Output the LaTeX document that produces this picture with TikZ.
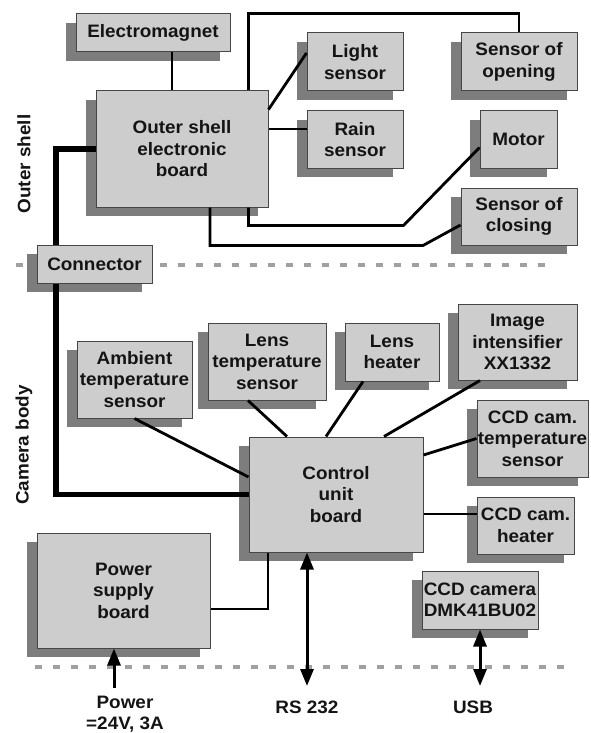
\documentclass[tikz,border=0pt]{standalone}
\usepackage{fontspec}
\setmainfont{Liberation Sans}[FakeStretch=1.05]
\usetikzlibrary{shadows,arrows.meta,calc}
\definecolor{boxfill}{RGB}{205,205,205}
\definecolor{shadowc}{RGB}{125,125,125}
\definecolor{edgec}{RGB}{70,70,70}
\definecolor{dashc}{RGB}{160,160,160}
\definecolor{textc}{RGB}{20,20,20}
\begin{document}
\begin{tikzpicture}[x=1pt,y=-1pt,
  every node/.style={font=\fontsize{18}{21.5}\selectfont\bfseries, text=textc},
  box/.style={draw=edgec, line width=1pt, fill=boxfill, inner sep=0pt, align=center,
     general shadow={fill=shadowc, shadow xshift=-10pt, shadow yshift=-9pt}},
  wire/.style={line width=2.8pt, black},
  thickwire/.style={line width=5.5pt, black},
  sepline/.style={dashc, line width=3.5pt, dash pattern=on 7pt off 11pt},
  bus/.style={line width=3pt, {Triangle[length=17pt,width=13pt]}-{Triangle[length=17pt,width=13pt]}},
  feed/.style={line width=3pt, -{Triangle[length=17pt,width=13pt]}}
]
\useasboundingbox (0,0) rectangle (591,733);

% separators
\coordinate (s1a) at (16,265);
\coordinate (s1b) at (552,265);
\coordinate (s2a) at (35,667);
\coordinate (s2b) at (572,667);
\draw[sepline] (s1a) -- (s1b);
\draw[sepline] (s2a) -- (s2b);

% boxes
\node[box, minimum width=154pt, minimum height=38pt] (elec) at (153,33) {Electromagnet};
\node[box, minimum width=172pt, minimum height=116pt] (outer) at (182,149) {Outer shell\\electronic\\board};
\node[box, minimum width=96pt, minimum height=58pt] (light) at (355,62) {Light\\sensor};
\node[box, minimum width=96pt, minimum height=57pt] (rain) at (355,139.5) {Rain\\sensor};
\node[box, minimum width=116pt, minimum height=58pt] (opening) at (519,62) {Sensor of\\opening};
\node[box, minimum width=77pt, minimum height=57pt] (motor) at (518.5,139.5) {Motor};
\node[box, minimum width=116pt, minimum height=57pt] (closing) at (519,216.5) {Sensor of\\closing};
\node[box, minimum width=115pt, minimum height=38pt] (conn) at (94.5,264) {Connector};
\node[box, minimum width=115pt, minimum height=77pt] (ambient) at (134.5,379.5) {Ambient\\temperature\\sensor};
\node[box, minimum width=118pt, minimum height=77pt] (lenstemp) at (267,361.5) {Lens\\temperature\\sensor};
\node[box, minimum width=94pt, minimum height=58pt] (lensheat) at (392,352) {Lens\\heater};
\node[box, minimum width=119pt, minimum height=76pt] (image) at (517.5,342) {Image\\intensifier\\XX1332};
\node[box, minimum width=111pt, minimum height=77pt] (ccdtemp) at (532.5,438.5) {CCD cam.\\temperature\\sensor};
\node[box, minimum width=174pt, minimum height=115pt] (control) at (336,494.5) {Control\\unit\\board};
\node[box, minimum width=97pt, minimum height=57pt] (ccdheat) at (525.5,525.5) {CCD cam.\\heater};
\node[box, minimum width=173pt, minimum height=115pt] (power) at (123.5,590.5) {Power\\supply\\board};
\node[box, minimum width=116pt, minimum height=58pt] (ccdcam) at (480,600) {CCD camera\\DMK41BU02};

% side labels
\node[rotate=90] (outerlab) at (24,164) {Outer shell};
\node[rotate=90] (bodylab) at (24,445) {Camera body};

% outer shell wiring
\draw[wire] ([xshift=19pt]elec.south) coordinate (e1) -- (e1 |- outer.north);
\draw[wire] ([xshift=-20pt]outer.north east) -- ++(0,-77) -| (opening.north);
\draw[wire] ([yshift=-19pt]outer.north east) -- ([yshift=9pt]light.west);
\draw[wire] ([yshift=10.5pt]rain.west) -- ([yshift=10.5pt]rain.west -| outer.east);
\draw[wire] ([xshift=-20pt]outer.south east) -- ++(0,18) -- ++(155,0) -- ([yshift=-8pt]motor.west);
\draw[wire] ([xshift=28pt]outer.south) -- ++(0,38) -- ++(213,0) -- ([yshift=-8.5pt]closing.west);
\draw[thickwire] (outer.west) -| ([xshift=-38.5pt]conn.north);
\draw[thickwire] ([xshift=-38.5pt]conn.south) |- (control.west);

% camera body wiring
\draw[wire] (ambient.south) -- ([yshift=17.5pt]control.west);
\draw[wire] ([xshift=-19pt]lenstemp.south) -- ([xshift=-49pt]control.north);
\draw[wire] ([xshift=-29pt]lensheat.south) -- ([xshift=-10pt]control.north);
\draw[wire] ([xshift=-37.5pt]image.south) -- ([xshift=48pt]control.north);
\draw[wire] ([yshift=39.5pt]control.east) -- (ccdtemp.west);
\draw[wire] ([yshift=11.5pt]ccdheat.west) -- ([yshift=11.5pt]ccdheat.west -| control.east);
\draw[wire] ([yshift=-18.5pt]power.east) -| ([xshift=-68pt]control.south);

% external interfaces
\coordinate (rsend) at (307,686);
\coordinate (usbend) at (480,686);
\coordinate (pwrend) at (114,688);
\draw[bus] (rsend |- control.south) -- (rsend);
\draw[bus] (ccdcam.south) -- (usbend);
\draw[feed] (pwrend) -- (pwrend |- power.south);

\node[anchor=base] (rslab) at (307,713) {RS 232};
\node[anchor=base] (usblab) at (473,713) {USB};
\node[anchor=base, align=center] (pwrlab) at (125,729) {Power\\[-1pt]=24V, 3A};
\end{tikzpicture}
\end{document}
